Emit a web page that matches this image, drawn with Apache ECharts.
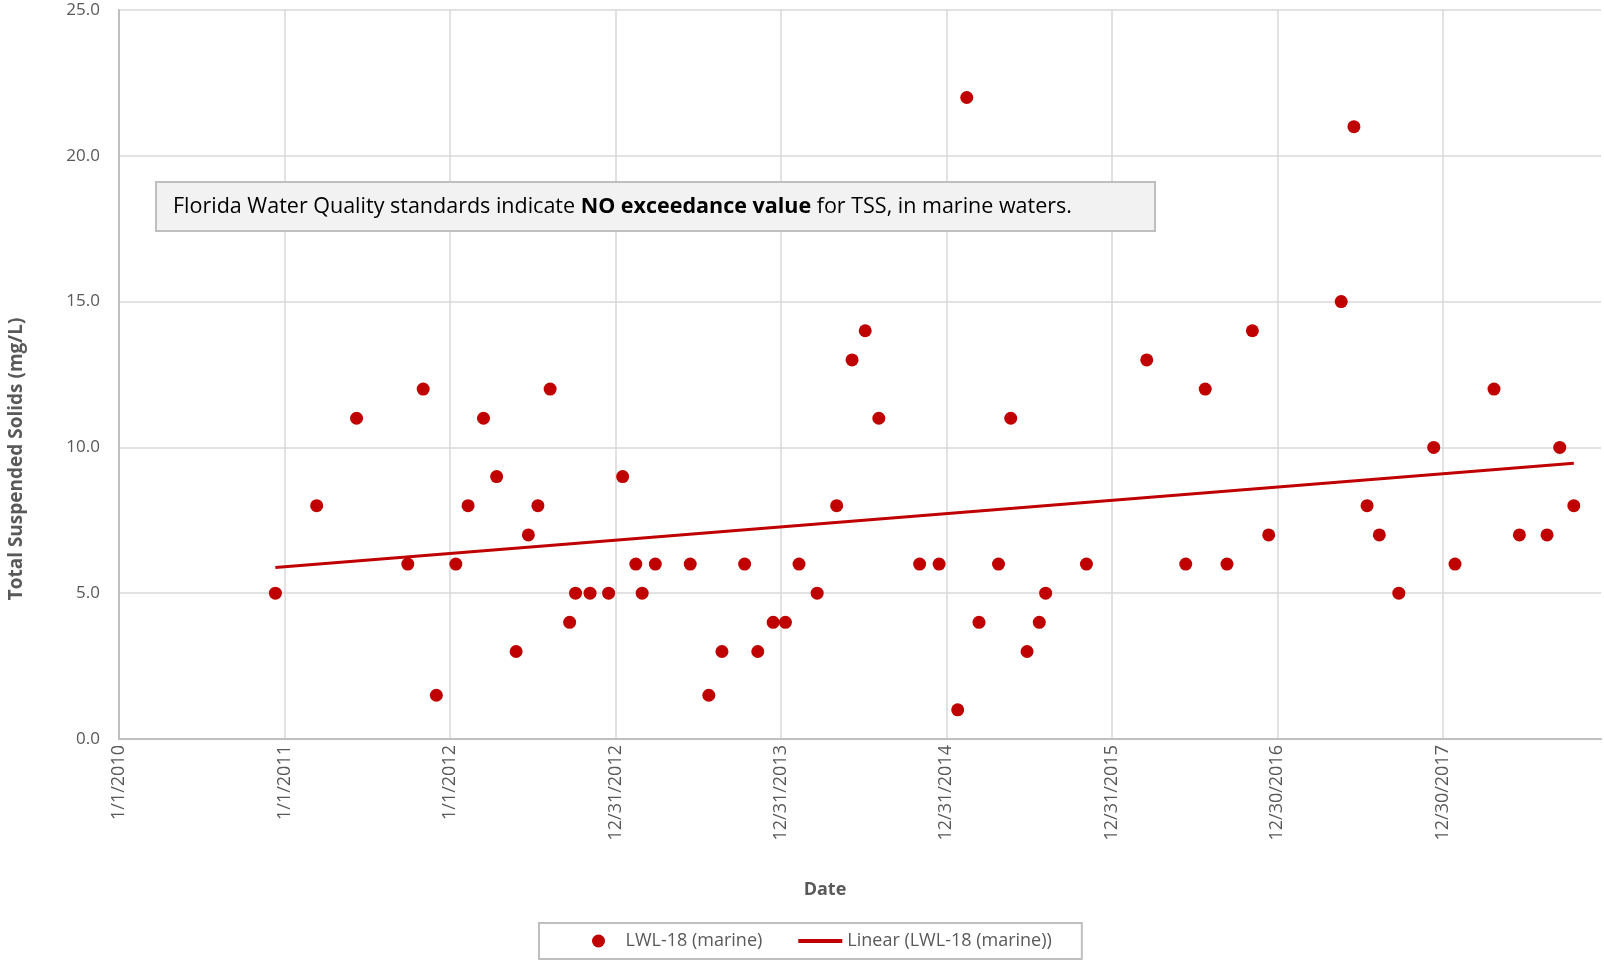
<!DOCTYPE html>
<html>
<head>
<meta charset="utf-8">
<title>LWL-18 Total Suspended Solids</title>
<script src="https://cdn.jsdelivr.net/npm/echarts@6/dist/echarts.min.js"></script>
<style>
  html, body { margin: 0; padding: 0; background: #fff; }
  #chart { width: 1604px; height: 974px; }
</style>
</head>
<body>
<div id="chart"></div>
<script>
// sample dates and TSS readings (mg/L)
var sampleDates = [
  '2010-12-12', '2011-03-13', '2011-06-09', '2011-09-30', '2011-11-03', '2011-12-02',
  '2012-01-14', '2012-02-10', '2012-03-15', '2012-04-13', '2012-05-26', '2012-06-22',
  '2012-07-13', '2012-08-09', '2012-09-21', '2012-10-04', '2012-11-05', '2012-12-16',
  '2013-01-16', '2013-02-14', '2013-02-28', '2013-03-29', '2013-06-14', '2013-07-25',
  '2013-08-23', '2013-10-12', '2013-11-10', '2013-12-14', '2014-01-10', '2014-02-09',
  '2014-03-21', '2014-05-03', '2014-06-06', '2014-07-05', '2014-08-04', '2014-11-02',
  '2014-12-15', '2015-01-25', '2015-02-14', '2015-03-13', '2015-04-25', '2015-05-22',
  '2015-06-27', '2015-07-24', '2015-08-07', '2015-11-05', '2016-03-17', '2016-06-11',
  '2016-07-24', '2016-09-10', '2016-11-05', '2016-12-11', '2017-05-20', '2017-06-17',
  '2017-07-16', '2017-08-12', '2017-09-24', '2017-12-10', '2018-01-26', '2018-04-22',
  '2018-06-17', '2018-08-17', '2018-09-14', '2018-10-15'
];
var tssValues = [
  5, 8, 11, 6, 12, 1.5,
  6, 8, 11, 9, 3, 7,
  8, 12, 4, 5, 5, 5,
  9, 6, 5, 6, 6, 1.5,
  3, 6, 3, 4, 4, 6,
  5, 8, 13, 14, 11, 6,
  6, 1, 22, 4, 6, 11,
  3, 4, 5, 6, 13, 6,
  12, 6, 14, 7, 15, 21,
  8, 7, 5, 10, 6, 12,
  7, 7, 10, 8
];

var seriesName = 'LWL-18 (marine)';
var trendName = 'Linear (LWL-18 (marine))';
var axisStart = '2010-01-01';
var axisEnd = '2018-12-14';   // right edge of the plot area
var yearStep = 365;           // Excel major unit, days
var yTickStep = 5;
var yMax = 25;

var FONT = '"Open Sans", "Noto Sans", sans-serif';
var RED = '#c00000';
var GREY_TEXT = '#595959';

function toUTC(s) {
  var p = s.split('-');
  return Date.UTC(+p[0], +p[1] - 1, +p[2]);
}
var day0 = toUTC(axisStart);
function dayNum(s) { return (toUTC(s) - day0) / 86400000; }
function dayLabel(d) {
  var t = new Date(day0 + d * 86400000);
  return (t.getUTCMonth() + 1) + '/' + t.getUTCDate() + '/' + t.getUTCFullYear();
}

var points = sampleDates.map(function (d, i) { return [dayNum(d), tssValues[i]]; });

// least squares trend, like Excel's linear trendline
var n = points.length, sx = 0, sy = 0, sxx = 0, sxy = 0;
points.forEach(function (p) {
  sx += p[0]; sy += p[1]; sxx += p[0] * p[0]; sxy += p[0] * p[1];
});
var slope = (n * sxy - sx * sy) / (n * sxx - sx * sx);
var icpt = (sy - slope * sx) / n;
var xFirst = points[0][0], xLast = points[n - 1][0];
var trend = [[xFirst, icpt + slope * xFirst], [xLast, icpt + slope * xLast]];

var chart = echarts.init(document.getElementById('chart'));
chart.setOption({
  animation: false,
  backgroundColor: '#fff',
  grid: { left: 119, top: 10, right: 3, bottom: 235, outerBoundsMode: 'none' },
  xAxis: {
    type: 'value',
    min: 0,
    max: dayNum(axisEnd),
    interval: yearStep,
    axisLine: { show: true, lineStyle: { color: '#bfbfbf', width: 2 } },
    axisTick: { show: false },
    splitLine: { show: true, showMaxLine: false, lineStyle: { color: '#d9d9d9', width: 1.5 } },
    axisLabel: {
      rotate: 90,
      margin: 6,
      showMaxLabel: false,
      color: GREY_TEXT,
      fontSize: 18,
      fontFamily: FONT,
      formatter: function (v) { return v % yearStep === 0 ? dayLabel(v) : ''; }
    }
  },
  yAxis: {
    type: 'value',
    min: 0,
    max: yMax,
    interval: yTickStep,
    axisLine: { show: true, lineStyle: { color: '#bfbfbf', width: 2 } },
    axisTick: { show: false },
    splitLine: { show: true, lineStyle: { color: '#d9d9d9', width: 1.5 } },
    axisLabel: {
      margin: 19,
      color: GREY_TEXT,
      fontSize: 17,
      fontFamily: FONT,
      formatter: function (v) { return v.toFixed(1); }
    }
  },
  legend: {
    left: 539,
    top: 923,
    padding: [9, 30, 9, 53],
    borderColor: '#bfbfbf',
    borderWidth: 2,
    itemWidth: 44,
    itemHeight: 13,
    itemGap: 36,
    symbolKeepAspect: true,
    textStyle: { color: GREY_TEXT, fontSize: 18, fontFamily: FONT },
    data: [
      { name: seriesName, icon: 'circle' },
      { name: trendName, icon: 'path://M0,0 L44,0 L44,4 L0,4 Z' }
    ]
  },
  graphic: [
    {
      type: 'rect',
      shape: { x: 156, y: 182, width: 999, height: 49 },
      style: { fill: '#f2f2f2', stroke: '#bfbfbf', lineWidth: 2 },
      z: 10
    },
    {
      type: 'text',
      x: 173,
      y: 207,
      z: 11,
      style: {
        text: '{n|Florida Water Quality standards indicate }{b|NO exceedance value}{n| for TSS, in marine waters.}',
        verticalAlign: 'middle',
        rich: {
          n: { fontSize: 21.5, fontFamily: FONT, fill: '#000' },
          b: { fontSize: 21.5, fontFamily: FONT, fontWeight: 'bold', fill: '#000' }
        }
      }
    },
    {
      type: 'text',
      x: 17,
      y: 459,
      rotation: Math.PI / 2,
      style: {
        text: 'Total Suspended Solids (mg/L)',
        align: 'center',
        verticalAlign: 'middle',
        fontSize: 19,
        fontWeight: 'bold',
        fontFamily: FONT,
        fill: GREY_TEXT
      }
    },
    {
      type: 'text',
      x: 825,
      y: 890,
      style: {
        text: 'Date',
        align: 'center',
        verticalAlign: 'middle',
        fontSize: 18,
        fontWeight: 'bold',
        fontFamily: FONT,
        fill: GREY_TEXT
      }
    }
  ],
  series: [
    {
      name: seriesName,
      type: 'scatter',
      symbol: 'circle',
      symbolSize: 13,
      itemStyle: { color: RED, opacity: 1 },
      data: points,
      z: 2
    },
    {
      name: trendName,
      type: 'line',
      symbol: 'none',
      lineStyle: { color: RED, width: 3 },
      itemStyle: { color: RED },
      data: trend,
      z: 3
    }
  ]
});
</script>
</body>
</html>
